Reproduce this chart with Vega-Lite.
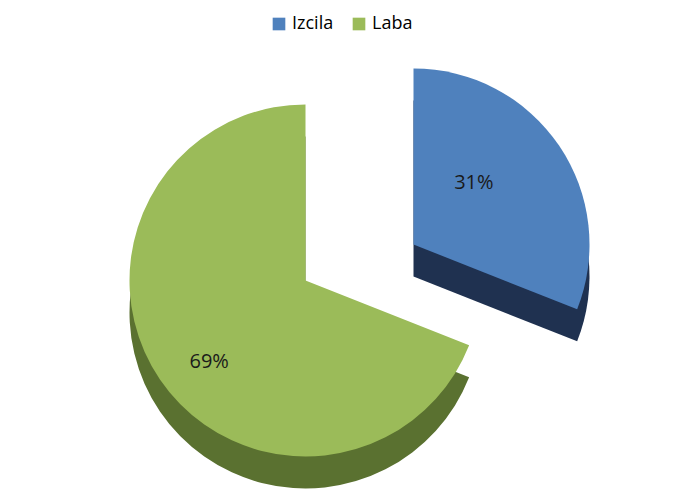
{
  "$schema": "https://vega.github.io/schema/vega-lite/v6.json",
  "width": 683,
  "height": 489,
  "autosize": {"type": "fit", "contains": "padding"},
  "background": "white",
  "data": {"values": [
    {"category": "Izcila", "value": 31, "label": "31%"},
    {"category": "Laba", "value": 69, "label": "69%"}
  ]},
  "transform": [
    {"stack": "value", "groupby": [], "as": ["t0", "t1"], "sort": [{"field": "category", "order": "ascending"}]}
  ],
  "layer": [
    {
      "transform": [{"filter": "datum.category === 'Laba'"}],
      "mark": {"type": "arc", "outerRadius": 176, "yOffset": 40, "xOffset": -36},
      "encoding": {
        "theta": {"field": "t0", "type": "quantitative", "scale": {"domain": [0, 100]}},
        "theta2": {"field": "t1"},
        "color": {"field": "category", "type": "nominal", "scale": {"domain": ["Izcila", "Laba"], "range": ["#1F3150", "#5A7130"]}, "legend": null}
      }
    },
    {
      "transform": [{"filter": "datum.category === 'Laba'"}],
      "mark": {"type": "arc", "outerRadius": 176, "yOffset": 8, "xOffset": -36},
      "encoding": {
        "theta": {"field": "t0", "type": "quantitative", "scale": {"domain": [0, 100]}},
        "theta2": {"field": "t1"},
        "color": {"field": "category", "type": "nominal", "scale": {"domain": ["Izcila", "Laba"], "range": ["#4F81BD", "#9BBB59"]}, "legend": {"title": null, "orient": "top", "direction": "horizontal", "symbolType": "square", "symbolSize": 160, "labelFontSize": 18, "labelFont": "Open Sans", "labelColor": "#000000", "symbolStrokeWidth": 0, "columnPadding": 16, "padding": 10}}
      }
    },
    {
      "transform": [{"filter": "datum.category === 'Izcila'"}],
      "mark": {"type": "arc", "outerRadius": 176, "yOffset": 4, "xOffset": 72},
      "encoding": {
        "theta": {"field": "t0", "type": "quantitative", "scale": {"domain": [0, 100]}},
        "theta2": {"field": "t1"},
        "color": {"field": "category", "type": "nominal", "scale": {"domain": ["Izcila", "Laba"], "range": ["#1F3150", "#5A7130"]}, "legend": null}
      }
    },
    {
      "transform": [{"filter": "datum.category === 'Izcila'"}],
      "mark": {"type": "arc", "outerRadius": 176, "yOffset": -28, "xOffset": 72},
      "encoding": {
        "theta": {"field": "t0", "type": "quantitative", "scale": {"domain": [0, 100]}},
        "theta2": {"field": "t1"},
        "color": {"field": "category", "type": "nominal", "scale": {"domain": ["Izcila", "Laba"], "range": ["#4F81BD", "#9BBB59"]}, "legend": null}
      }
    },
    {
      "mark": {"type": "text", "radius": 160, "fontSize": 20, "font": "Open Sans", "color": "#1a1a1a"},
      "encoding": {
        "theta": {"field": "value", "type": "quantitative", "stack": true, "scale": {"domain": [0, 100]}},
        "order": {"field": "category"},
        "text": {"field": "label"}
      }
    }
  ],
  "resolve": {"scale": {"color": "independent"}},
  "config": {"view": {"stroke": null}, "legend": {"layout": {"top": {"anchor": "middle"}}}}
}
